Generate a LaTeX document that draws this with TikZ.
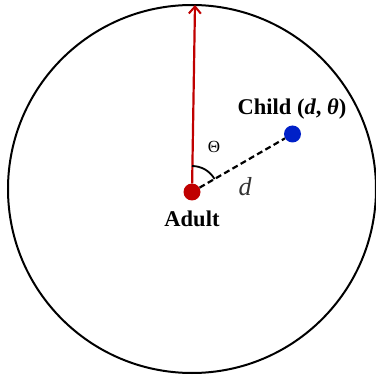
\documentclass[tikz,border=0pt]{standalone}
\usepackage{fontspec}
\setmainfont{Liberation Serif}
\usetikzlibrary{arrows.meta}
\definecolor{adultred}{RGB}{192,0,0}
\definecolor{childblue}{RGB}{0,32,200}
\begin{document}
\begin{tikzpicture}[x=1pt,y=1pt,
  dot/.style={circle,inner sep=0pt,minimum size=#1},
  lbl/.style={font=\fontsize{22.5}{26}\selectfont\bfseries,inner sep=0pt}]
\useasboundingbox (0,0) rectangle (376,376);
\clip (0,0) rectangle (376,376);
\coordinate (c) at (192,187);
\draw[line width=2pt] (c) circle (184);
\coordinate (top) at (195,371);
\node[dot=17, fill=adultred] (adult) at (192,184) {};
\node[dot=17, fill=childblue] (child) at (292.5,242) {};
\draw[adultred, line width=2.2pt, -{Straight Barb[length=7pt,width=12pt,line width=2pt]}] (adult) -- (top);
\draw[line width=2.2pt, dash pattern=on 6pt off 3.5pt] (adult) -- (child);
\draw[line width=1.8pt] ([shift={(90:26)}]adult.center) arc (90:30:26);
\node[font=\fontsize{17}{19}\selectfont, inner sep=0pt] (theta) at (214,229) {Θ};
\node[font=\fontsize{26}{28}\selectfont\itshape, text=black!80, inner sep=0pt] (dlab) at (245,189) {d};
\node[lbl] (childlab) at (292,267) {Child (\textit{d}, \textit{θ})};
\node[lbl] (adultlab) at (192,157) {Adult};
\end{tikzpicture}
\end{document}
